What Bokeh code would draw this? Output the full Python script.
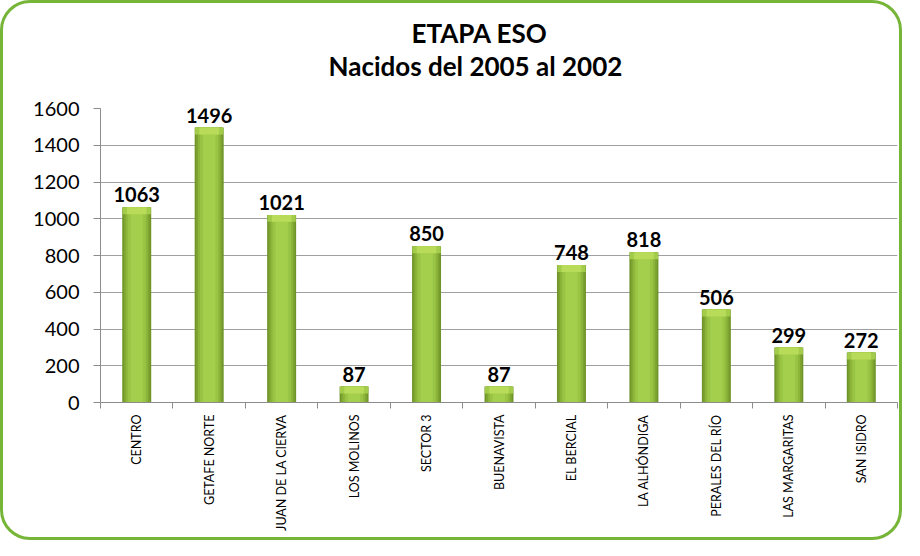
import math
from bokeh.plotting import figure
from bokeh.models import (ColumnDataSource, FixedTicker, Range1d, Title, LabelSet)
from bokeh.core.properties import value
from bokeh.embed import file_html
from bokeh.resources import INLINE

# ---- data ----
categories = ["CENTRO", "GETAFE NORTE", "JUAN DE LA CIERVA", "LOS MOLINOS", "SECTOR 3",
              "BUENAVISTA", "EL BERCIAL", "LA ALHÓNDIGA", "PERALES DEL RÍO",
              "LAS MARGARITAS", "SAN ISIDRO"]
values = [1063, 1496, 1021, 87, 850, 87, 748, 818, 506, 299, 272]
y_ticks = [0, 200, 400, 600, 800, 1000, 1200, 1400, 1600]
title_lines = ["ETAPA ESO", "Nacidos del 2005 al 2002"]

FONT = "Lato"
n = len(categories)
xs = [i + 0.5 for i in range(n)]
cap = 38  # cap height in data units (~7px)

src = ColumnDataSource(dict(
    x=xs, top=values, label=[str(v) for v in values],
    cap_bottom=[max(v - cap, 0) for v in values],
))

p = figure(width=902, height=540, output_backend="svg", toolbar_location=None,
           x_range=Range1d(0, n), y_range=Range1d(0, 1600),
           min_border_left=97, min_border_right=8, min_border_top=105, min_border_bottom=141,
           border_fill_alpha=0, outline_line_color=None)
p.styles = {"border": "3px solid #77b539", "border-radius": "30px", "background": "white"}

# two title lines (left-aligned with offsets so that they centre where the reference does)
t2 = Title(text=title_lines[1], align="left", offset=228, text_font=FONT,
           text_font_size="26px", text_font_style="bold", text_color="#000000", standoff=54)
t1 = Title(text=title_lines[0], align="left", offset=311, text_font=FONT,
           text_font_size="26px", text_font_style="bold", text_color="#000000", standoff=-56)
p.add_layout(t2, "above")
p.add_layout(t1, "above")

# bars with cylinder-like shading
layers = [(0.40, "#6f9429"), (0.36, "#7ea331"), (0.31, "#8cb63a"),
          (0.25, "#99c444"), (0.17, "#a4cf4d")]
for w, c in layers:
    p.vbar(x="x", top="top", bottom=0, width=w, source=src, fill_color=c, line_color=None)
p.vbar(x="x", top="top", bottom="cap_bottom", width=0.39, source=src,
       fill_color="#a3cc4b", line_color=None)
p.vbar(x="x", top="top", bottom="cap_bottom", width=0.27, source=src,
       fill_color="#b8dc5a", line_color=None)

labels = LabelSet(x="x", y="top", text="label", source=src, text_align="center",
                  text_baseline="bottom", y_offset=5, text_font=value(FONT),
                  text_font_size=value("20px"), text_font_style="bold", text_color="#000000")
p.add_layout(labels)

# y axis
p.yaxis.ticker = FixedTicker(ticks=y_ticks)
p.yaxis.major_label_text_font = FONT
p.yaxis.major_label_text_font_size = "20px"
p.yaxis.major_label_text_color = "#000000"
p.yaxis.axis_line_color = "#8c8c8c"
p.yaxis.major_tick_line_color = "#8c8c8c"
p.yaxis.major_tick_out = 7
p.yaxis.major_tick_in = 0
p.yaxis.minor_tick_line_color = None
p.yaxis.major_label_standoff = 14

# x axis: ticks at category boundaries, labels at centers
p.xaxis.ticker = FixedTicker(ticks=xs, minor_ticks=list(range(n + 1)))
p.xaxis.major_label_overrides = {x: c for x, c in zip(xs, categories)}
p.xaxis.major_label_orientation = math.pi / 2
p.xaxis.major_label_text_font = FONT
p.xaxis.major_label_text_font_size = "12.5px"
p.xaxis.major_label_text_color = "#000000"
p.xaxis.major_tick_line_color = None
p.xaxis.minor_tick_line_color = "#8c8c8c"
p.xaxis.minor_tick_out = 6
p.xaxis.minor_tick_in = 0
p.xaxis.axis_line_color = "#8c8c8c"
p.xaxis.major_label_standoff = 6

p.xgrid.grid_line_color = None
p.ygrid.grid_line_color = "#a0a0a0"
p.ygrid.ticker = FixedTicker(ticks=y_ticks)

open("out.html", "w").write(file_html(p, INLINE))
